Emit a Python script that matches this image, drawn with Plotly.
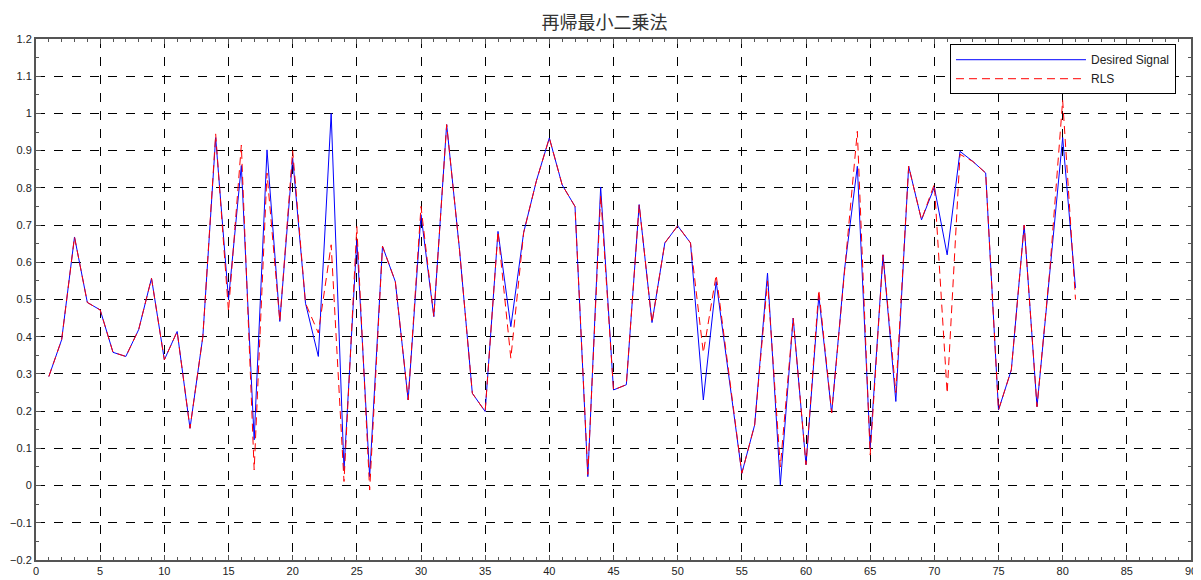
import plotly.graph_objects as go

x_index = list(range(1, 82))

desired_signal = [
    0.293, 0.392, 0.668, 0.492, 0.472, 0.358, 0.347, 0.419, 0.557, 0.338,
    0.414, 0.154, 0.400, 0.935, 0.500, 0.860, 0.123, 0.902, 0.441, 0.880,
    0.490, 0.347, 1.000, 0.042, 0.660, 0.024, 0.643, 0.548, 0.230, 0.728,
    0.454, 0.970, 0.634, 0.248, 0.199, 0.683, 0.427, 0.680, 0.820, 0.934,
    0.808, 0.750, 0.024, 0.802, 0.257, 0.271, 0.755, 0.438, 0.652, 0.698,
    0.652, 0.230, 0.548, 0.293, 0.033, 0.163, 0.571, 0.002, 0.450, 0.056,
    0.510, 0.195, 0.580, 0.858, 0.100, 0.620, 0.226, 0.858, 0.714, 0.802,
    0.620, 0.898, 0.871, 0.840, 0.203, 0.311, 0.700, 0.212, 0.580, 0.935,
    0.531,
]

rls_output = [
    0.293, 0.392, 0.668, 0.492, 0.472, 0.358, 0.347, 0.419, 0.557, 0.338,
    0.414, 0.154, 0.400, 0.945, 0.468, 0.915, 0.042, 0.840, 0.441, 0.900,
    0.490, 0.410, 0.647, 0.011, 0.696, -0.012, 0.643, 0.548, 0.230, 0.750,
    0.454, 0.970, 0.634, 0.248, 0.199, 0.683, 0.342, 0.680, 0.820, 0.934,
    0.808, 0.750, 0.030, 0.780, 0.257, 0.271, 0.755, 0.438, 0.652, 0.698,
    0.652, 0.357, 0.566, 0.293, 0.033, 0.163, 0.550, 0.050, 0.450, 0.056,
    0.526, 0.195, 0.580, 0.952, 0.082, 0.620, 0.250, 0.858, 0.714, 0.810,
    0.248, 0.890, 0.871, 0.840, 0.203, 0.311, 0.700, 0.212, 0.580, 1.035,
    0.500,
]

title_text = "再帰最小二乗法"
series_names = ["Desired Signal", "RLS"]

fig = go.Figure()
fig.add_trace(go.Scatter(
    x=x_index, y=desired_signal, mode="lines", name=series_names[0],
    line=dict(color="#0000ff", width=1),
))
fig.add_trace(go.Scatter(
    x=x_index, y=rls_output, mode="lines", name=series_names[1],
    line=dict(color="#ff0000", width=1, dash="8px,5px"),
))

axis_common = dict(
    showline=True, linecolor="#555555", linewidth=2, mirror="allticks",
    ticks="inside", ticklen=5, tickcolor="#555555", tickwidth=1,
    showgrid=True, gridcolor="#000000", gridwidth=1, griddash="dash",
    zeroline=False, automargin=False,
    tickfont=dict(family="Liberation Sans, DejaVu Sans, sans-serif", size=11, color="#222222"),
)

fig.update_xaxes(
    range=[0, 90], tick0=0, dtick=5,
    minor=dict(dtick=1, ticks="inside", ticklen=3, tickcolor="#555555", showgrid=False),
    **axis_common,
)
fig.update_yaxes(
    range=[-0.2, 1.2], tick0=-0.2, dtick=0.1,
    minor=dict(dtick=0.05, ticks="inside", ticklen=3, tickcolor="#555555", showgrid=False),
    **axis_common,
)

# the page body has an 8px default margin, so the figure is sized to fit the window
fig.update_layout(
    width=1193, height=572,
    margin=dict(l=28, r=10, t=31, b=20),
    paper_bgcolor="white", plot_bgcolor="white",
    title=dict(
        text=title_text, x=0.5, xanchor="center", y=0.975, yanchor="middle",
        font=dict(family="Noto Sans CJK JP", size=18, color="#333333"),
    ),
    legend=dict(
        x=0.987, y=0.99, xanchor="right", yanchor="top",
        bgcolor="white", bordercolor="#000000", borderwidth=1,
        font=dict(family="Liberation Sans, DejaVu Sans, sans-serif", size=12, color="#222222"),
        tracegroupgap=0, itemwidth=130,
    ),
    showlegend=True,
)

fig.write_html("out.html")
